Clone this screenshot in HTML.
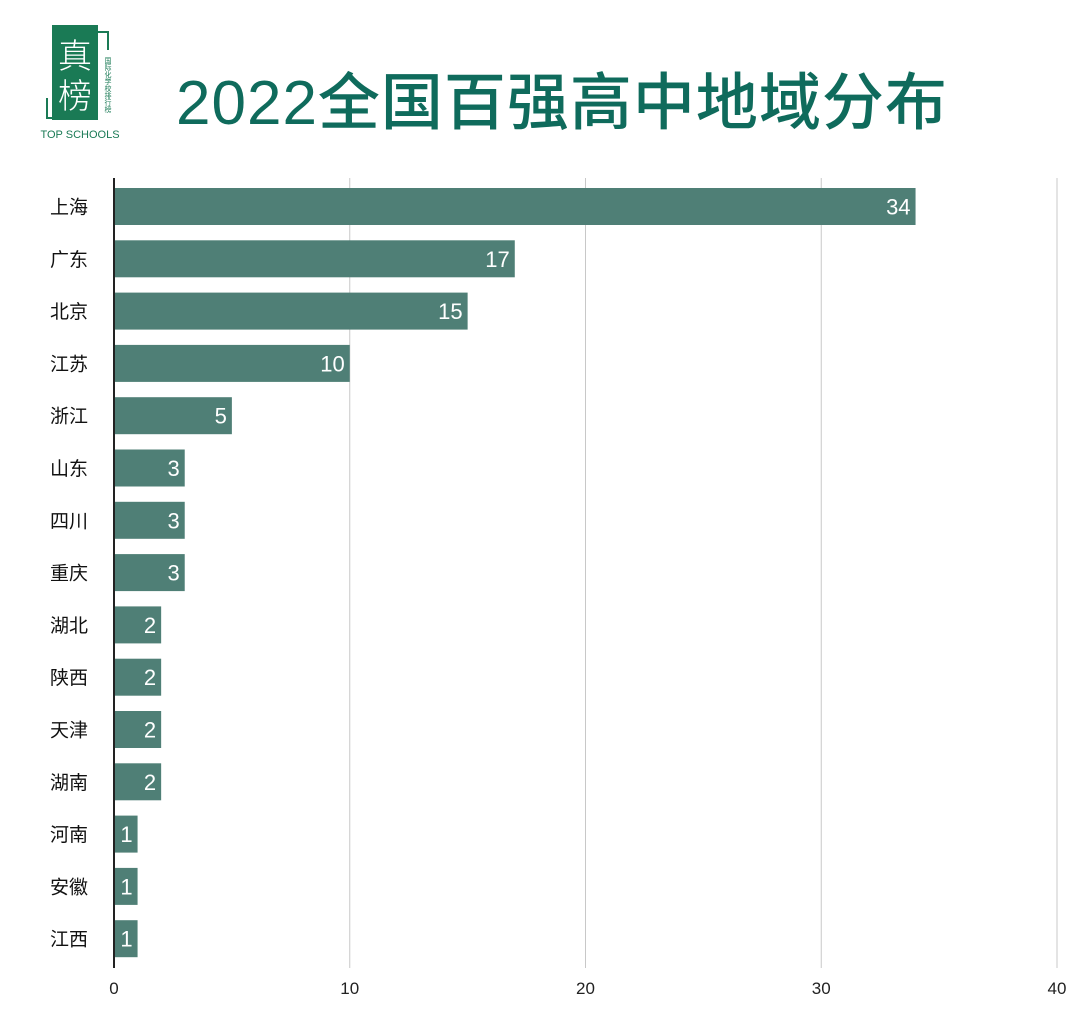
<!DOCTYPE html>
<html><head><meta charset="utf-8"><style>
body{margin:0;background:#fff;width:1080px;height:1027px;overflow:hidden;font-family:"Liberation Sans","Noto Sans CJK SC",sans-serif;}
#wrap{position:relative;width:1080px;height:1027px;}
.title{position:absolute;left:176px;top:66px;font-size:62px;color:#0f6b5c;font-weight:500;letter-spacing:1px;line-height:76px;white-space:nowrap;}
</style></head><body>
<div id="wrap">
<svg width="130" height="150" style="position:absolute;left:30px;top:10px">
  <rect x="22" y="15" width="46" height="95" fill="#1a7a55"/>
  <polyline points="64,22 78,22 78,40" fill="none" stroke="#1a7a55" stroke-width="2"/>
  <polyline points="17,88 17,108 30,108" fill="none" stroke="#1a7a55" stroke-width="2"/>
  <text x="45" y="58" font-size="34" fill="#fff" text-anchor="middle" font-family="Noto Sans CJK SC,sans-serif" font-weight="300">真</text>
  <text x="45" y="98" font-size="34" fill="#fff" text-anchor="middle" font-family="Noto Sans CJK SC,sans-serif" font-weight="300">榜</text>
  <text x="78" y="47" font-size="7" fill="#1a7a55" writing-mode="tb" font-family="Noto Sans CJK SC,sans-serif">国际化学校排行榜</text>
  <text x="50" y="128" font-size="11" fill="#1a7a55" text-anchor="middle" font-family="Liberation Sans,sans-serif">TOP SCHOOLS</text>
</svg>
<div class="title">2022全国百强高中地域分布</div>
<svg id="chart" width="1080" height="1027" style="position:absolute;left:0;top:0"></svg>
</div>
<script>
const categories=["上海","广东","北京","江苏","浙江","山东","四川","重庆","湖北","陕西","天津","湖南","河南","安徽","江西"];
const values=[34,17,15,10,5,3,3,3,2,2,2,2,1,1,1];
const ticks=[0,10,20,30,40];
const NS="http://www.w3.org/2000/svg";
const svg=document.getElementById('chart');
const x0=114,x1=1057,xmax=40;
const xs=v=>x0+(x1-x0)*v/xmax;
const yTop=188,step=52.3,bh=37;
const ys=i=>yTop+i*step;
function mk(t,a){const e=document.createElementNS(NS,t);for(const k in a)e.setAttribute(k,a[k]);svg.appendChild(e);return e;}
ticks.forEach(t=>{
  if(t>0){const g=mk('line',{x1:xs(t),x2:xs(t),y1:178,y2:968,stroke:'#c8c8c8','stroke-width':1});
  
  }
  const l=mk('text',{x:xs(t),y:994,'font-size':17,'text-anchor':'middle',fill:'#222'});
  l.textContent=t;
  
  
});
categories.forEach((c,i)=>{
  const r=mk('rect',{x:x0,y:ys(i),width:xs(values[i])-x0,height:bh,fill:'#4f7f76'});
  
  
  const v=mk('text',{x:xs(values[i])-5,y:ys(i)+bh/2+8,'font-size':22,'text-anchor':'end',fill:'#fff'});
  v.textContent=values[i];
  
  
  const l=mk('text',{x:88,y:ys(i)+bh/2+7,'font-size':19,'text-anchor':'end',fill:'#111','font-family':'Liberation Sans,Noto Sans CJK SC,sans-serif'});
  l.textContent=c;
  
  
});
const ax=mk('line',{x1:x0,x2:x0,y1:178,y2:968,stroke:'#222','stroke-width':2});


</script>
</body></html>
